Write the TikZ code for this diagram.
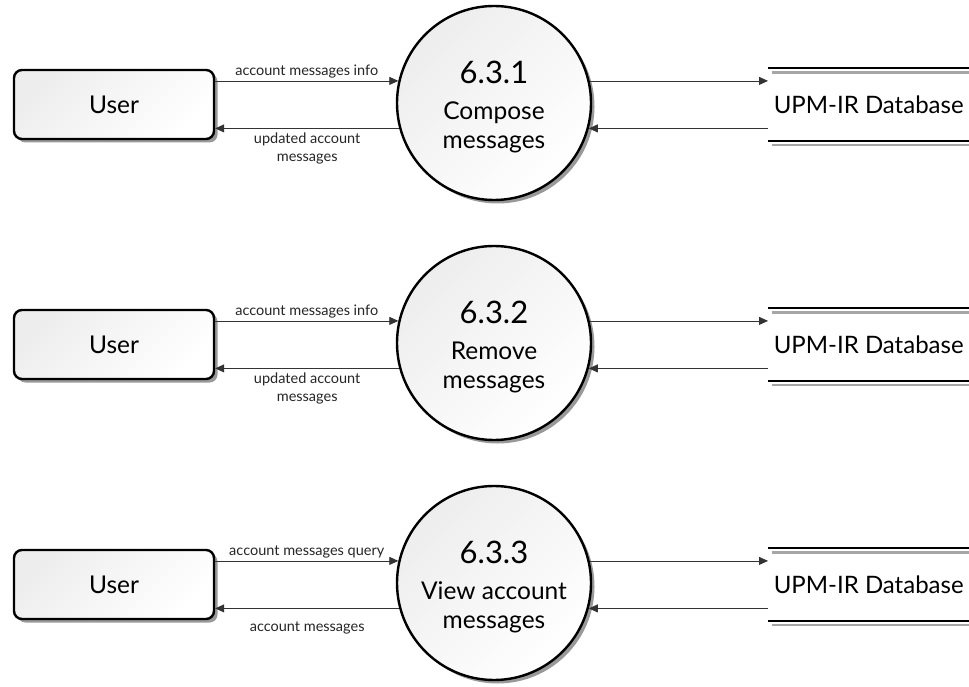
\documentclass[tikz,border=0pt]{standalone}
\usepackage{fontspec}
\setmainfont{Lato}
\usetikzlibrary{arrows.meta,shadows,calc}

\begin{document}
\begin{tikzpicture}[x=1pt,y=-1pt,
  shapeline/.style={draw=black, line width=2.4pt},
  gradfill/.style={shading=axis, top color=black!7, bottom color=white, shading angle=45},
  softshadow/.style={drop shadow={shadow xshift=3.5pt, shadow yshift=-3.5pt, fill=black!40, opacity=1}},
  entity/.style={shapeline, gradfill, softshadow, rounded corners=8pt,
    minimum width=200pt, minimum height=69pt, inner sep=0pt,
    font=\fontsize{24.5}{28}\selectfont},
  process/.style={shapeline, gradfill, softshadow, circle, minimum size=194pt,
    inner sep=0pt, align=center, font=\fontsize{24.5}{29}\selectfont},
  store/.style={minimum width=201pt, minimum height=72.4pt, inner sep=0pt,
    font=\fontsize{24}{28}\selectfont},
  storeline/.style={line width=2pt, black},
  storeshade/.style={line width=2.4pt, black!35},
  flow/.style={draw=black!80, line width=0.8pt, -{Triangle[length=9pt,width=8pt]}},
  flowlabel/.style={font=\fontsize{14.5}{17.5}\selectfont, align=center, text=black!85},
]
\useasboundingbox (0,0) rectangle (969,687);
\fill[white] (0,0) rectangle (969,687);

% ---------- 6.3.1 Compose messages ----------
\node[entity] (user1) at (114,104.5) {User};
\node[process] (proc1) at (494,103)
  {\rule{0pt}{30pt}{\fontsize{31}{36}\selectfont 6.3.1}\\[7pt]Compose\\messages};
\node[store, anchor=west] (db1) at (768,104.5) {UPM-IR Database};

% ---------- 6.3.2 Remove messages ----------
\node[entity] (user2) at (114,344.5) {User};
\node[process] (proc2) at (494,343)
  {\rule{0pt}{30pt}{\fontsize{31}{36}\selectfont 6.3.2}\\[7pt]Remove\\messages};
\node[store, anchor=west] (db2) at (768,344.5) {UPM-IR Database};

% ---------- 6.3.3 View account messages ----------
\node[entity] (user3) at (114,584.5) {User};
\node[process] (proc3) at (494,583)
  {\rule{0pt}{30pt}{\fontsize{31}{36}\selectfont 6.3.3}\\[7pt]View account\\messages};
\node[store, anchor=west] (db3) at (768,584.5) {UPM-IR Database};

% data store borders: open rectangle with a grey shadow line
\foreach \d in {db1,db2,db3}{
  \draw[storeshade] ([shift={(3.5,4.3)}]\d.north west) -- ([shift={(0,4.3)}]\d.north east);
  \draw[storeshade] ([shift={(3.5,4.3)}]\d.south west) -- ([shift={(0,4.3)}]\d.south east);
  \draw[storeline] (\d.north west) -- (\d.north east);
  \draw[storeline] (\d.south west) -- (\d.south east);
}

% data flows
\draw[flow] (user1.east |- proc1.167) -- node[flowlabel, above, inner sep=2pt] {account messages info} (proc1.167);
\draw[flow] (proc1.195) -- node[flowlabel, yshift=-20pt] {updated account\\messages} (user1.east |- proc1.195);
\draw[flow] (proc1.13) -- (db1.west |- proc1.13);
\draw[flow] (db1.west |- proc1.345) -- (proc1.345);

\draw[flow] (user2.east |- proc2.167) -- node[flowlabel, above, inner sep=2pt] {account messages info} (proc2.167);
\draw[flow] (proc2.195) -- node[flowlabel, yshift=-20pt] {updated account\\messages} (user2.east |- proc2.195);
\draw[flow] (proc2.13) -- (db2.west |- proc2.13);
\draw[flow] (db2.west |- proc2.345) -- (proc2.345);

\draw[flow] (user3.east |- proc3.167) -- node[flowlabel, above, inner sep=2pt] {account messages query} (proc3.167);
\draw[flow] (proc3.195) -- node[flowlabel, yshift=-20pt] {account messages} (user3.east |- proc3.195);
\draw[flow] (proc3.13) -- (db3.west |- proc3.13);
\draw[flow] (db3.west |- proc3.345) -- (proc3.345);
\end{tikzpicture}
\end{document}
